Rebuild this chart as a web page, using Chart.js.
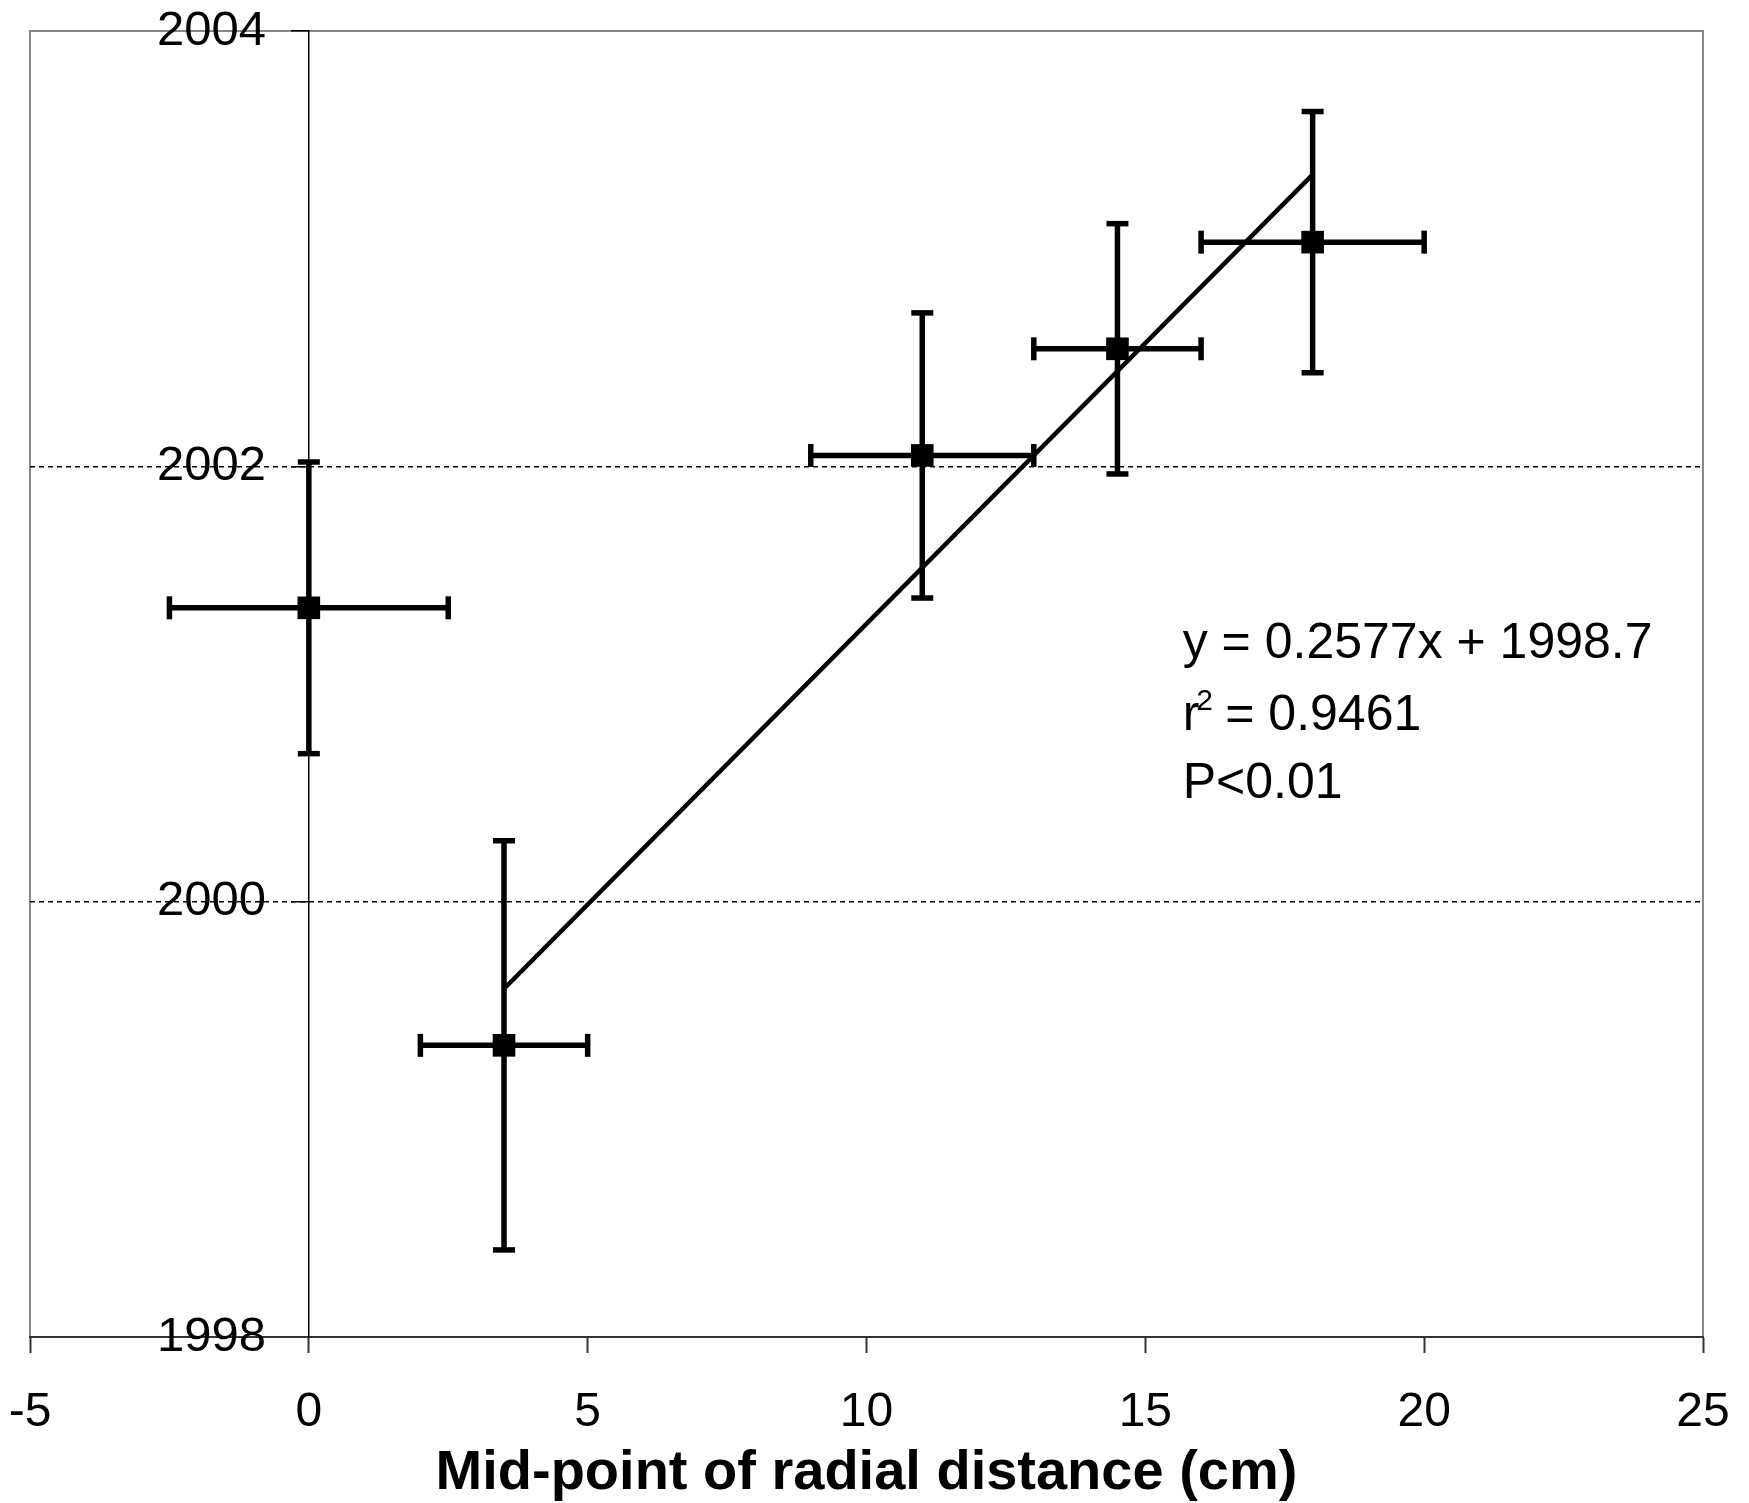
<!DOCTYPE html>
<html>
<head>
<meta charset="utf-8">
<script src="https://cdn.jsdelivr.net/npm/chart.js@4.4.1/dist/chart.umd.min.js"></script>
<style>
  html, body { margin: 0; padding: 0; background: #fff; }
  canvas { display: block; }
</style>
</head>
<body>
<canvas id="radialChart" width="1749" height="1503"></canvas>
<script>
// values
const midPoints = [0, 3.5, 11, 14.5, 18];
const years = [2001.35, 1999.34, 2002.05, 2002.54, 2003.03];
const yearErr = [0.67, 0.94, 0.655, 0.575, 0.6];
const distErr = [2.5, 1.5, 2, 1.5, 2];
const trendX = [3.5, 18];
const trendY = [1999.6, 2003.34];
const xTicks = [-5, 0, 5, 10, 15, 20, 25];
const yTicks = [1998, 2000, 2002, 2004];
const eqText = 'y = 0.2577x + 1998.7';
const r2Text = ' = 0.9461';
const pText = 'P<0.01';

const FONT = '"Liberation Sans", Arial, sans-serif';

const datasets = [];

// square markers (dataset 0 is drawn on top)
datasets.push({
  label: 'mean',
  data: midPoints.map((x, i) => ({ x, y: years[i] })),
  showLine: false,
  pointStyle: 'rect',
  pointRadius: 16,
  pointBackgroundColor: '#000',
  pointBorderColor: '#000',
  pointBorderWidth: 0,
});

// regression line
datasets.push({
  label: 'trend',
  data: trendX.map((x, i) => ({ x, y: trendY[i] })),
  showLine: true,
  borderColor: '#000',
  borderWidth: 4.5,
  pointRadius: 0,
});

// error bars: vertical (year) and horizontal (distance), caps are rotated line points
midPoints.forEach((x, i) => {
  datasets.push({
    label: 'yerr' + i,
    data: [{ x, y: years[i] - yearErr[i] }, { x, y: years[i] + yearErr[i] }],
    showLine: true,
    borderColor: '#000',
    borderWidth: 5.5,
    pointStyle: 'line',
    pointRadius: 11,
    pointRotation: 0,
    pointBorderColor: '#000',
    pointBorderWidth: 5.5,
  });
  datasets.push({
    label: 'xerr' + i,
    data: [{ x: x - distErr[i], y: years[i] }, { x: x + distErr[i], y: years[i] }],
    showLine: true,
    borderColor: '#000',
    borderWidth: 5.5,
    pointStyle: 'line',
    pointRadius: 11.5,
    pointRotation: 90,
    pointBorderColor: '#000',
    pointBorderWidth: 5.5,
  });
});

const framePlugin = {
  id: 'frame',
  beforeDraw(chart) {
    const { ctx, chartArea: a } = chart;
    ctx.save();
    ctx.fillStyle = '#fff';
    ctx.fillRect(0, 0, chart.width, chart.height);
    ctx.strokeStyle = '#888';
    ctx.lineWidth = 2;
    ctx.strokeRect(a.left, a.top, a.right - a.left, a.bottom - a.top);
    ctx.restore();
  }
};

const statsPlugin = {
  id: 'stats',
  afterDatasetsDraw(chart) {
    const { ctx, scales } = chart;
    const x0 = scales.x.getPixelForValue(15.67);
    const y0 = scales.y.getPixelForValue(2001.12);
    ctx.save();
    ctx.fillStyle = '#000';
    ctx.textBaseline = 'alphabetic';
    ctx.textAlign = 'left';
    ctx.font = '50px ' + FONT;
    ctx.fillText(eqText, x0, y0);
    // r squared with superscript
    const y1 = y0 + 72;
    ctx.fillText('r', x0, y1);
    const rw = ctx.measureText('r').width;
    ctx.font = '30px ' + FONT;
    ctx.fillText('2', x0 + rw - 3, y1 - 20);
    ctx.font = '50px ' + FONT;
    ctx.fillText(r2Text, x0 + rw + 12, y1);
    ctx.fillText(pText, x0, y1 + 68);
    ctx.restore();
  }
};

const yearTick = v => String(v);

new Chart(document.getElementById('radialChart'), {
  type: 'scatter',
  data: { datasets },
  plugins: [framePlugin, statsPlugin],
  options: {
    responsive: false,
    animation: false,
    layout: { padding: { left: 30, right: 46, top: 31, bottom: 0 } },
    plugins: {
      legend: { display: false },
      tooltip: { enabled: false },
    },
    scales: {
      x: {
        type: 'linear',
        position: 'bottom',
        min: -5,
        max: 25,
        afterBuildTicks: s => { s.ticks = xTicks.map(v => ({ value: v })); },
        afterFit: s => { s.height = 166; s.paddingLeft = 0; s.paddingRight = 0; },
        border: { display: true, color: '#333', width: 2 },
        grid: { drawOnChartArea: false, drawTicks: true, tickLength: 16, tickColor: '#333', tickWidth: 2 },
        ticks: { color: '#000', font: { family: FONT, size: 48, lineHeight: 1 }, padding: 36, maxRotation: 0, autoSkip: false, callback: yearTick },
        title: {
          display: true,
          text: 'Mid-point of radial distance (cm)',
          color: '#000',
          font: { family: FONT, size: 56, weight: 'bold', lineHeight: 1 },
          padding: { top: 0, bottom: 1 },
        },
      },
      y: {
        type: 'linear',
        position: { x: 0 },
        min: 1998,
        max: 2004,
        afterBuildTicks: s => { s.ticks = yTicks.map(v => ({ value: v })); },
        afterFit: s => { s.width = 0; s.paddingTop = 0; s.paddingBottom = 0; },
        border: { display: true, color: '#000', width: 1.5, dash: [5, 4] },
        grid: {
          color: c => (c.tick && (c.tick.value === 2000 || c.tick.value === 2002)) ? '#000' : 'rgba(0,0,0,0)',
          lineWidth: 1.5,
          tickLength: 17,
          tickColor: '#000',
          tickWidth: 1.5,
          tickBorderDash: [],
        },
        ticks: { display: false },
      },
      // label-only copy of the year axis, set left of the x = 0 axis line
      yLabels: {
        type: 'linear',
        axis: 'y',
        position: { x: -0.77 },
        min: 1998,
        max: 2004,
        afterBuildTicks: s => { s.ticks = yTicks.map(v => ({ value: v })); },
        afterFit: s => { s.width = 0; s.paddingTop = 0; s.paddingBottom = 0; },
        border: { display: false },
        grid: { display: false, drawTicks: false },
        ticks: { color: '#000', font: { family: FONT, size: 49 }, padding: 0, autoSkip: false, callback: yearTick },
      },
    },
  },
});
</script>
</body>
</html>
